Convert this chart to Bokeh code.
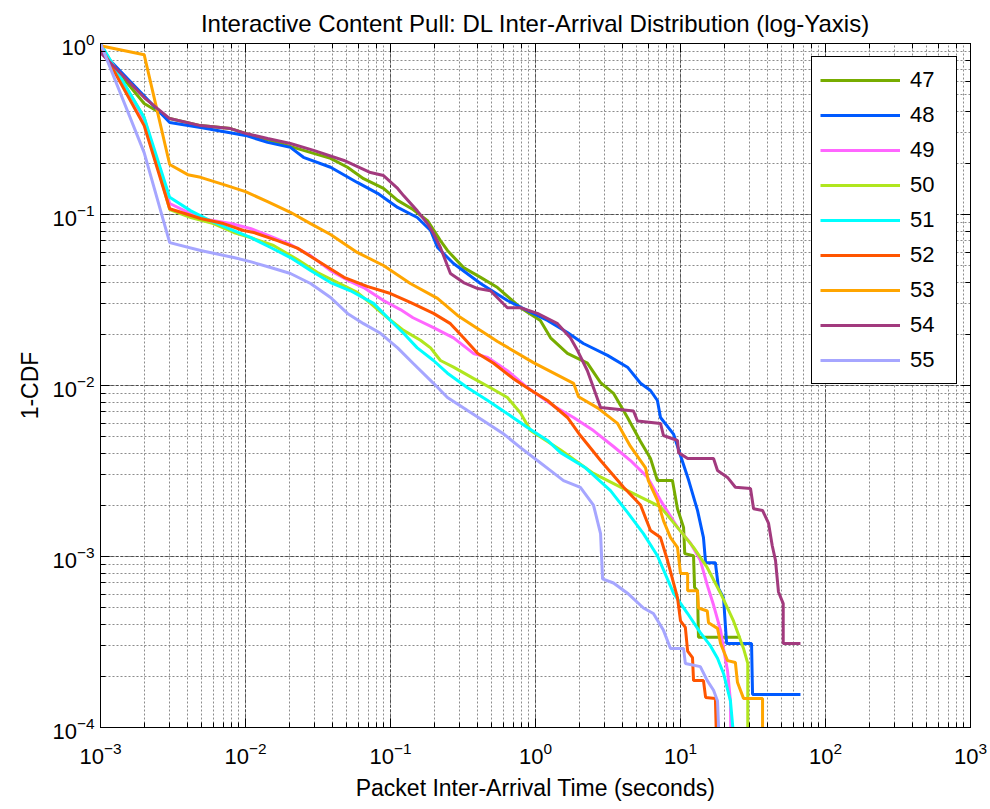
from bokeh.plotting import figure
from bokeh.models import LogAxis, Legend, LegendItem
from bokeh.embed import file_html
from bokeh.resources import INLINE

FONT = "Liberation Sans"

series_names = ["47", "48", "49", "50", "51", "52", "53", "54", "55"]
colors = ["#77AC00", "#005AFF", "#FF66FF", "#B0E61E", "#00FFFF",
          "#FF5500", "#FFA500", "#A23A7E", "#A6A6FF"]

t47 = [0.001, 0.002, 0.003, 0.0049, 0.0079, 0.01, 0.0214, 0.0386, 0.0505, 0.0652, 0.0895, 0.112, 0.143, 0.18,
       0.221, 0.247, 0.319, 0.418, 0.547, 0.788, 1.08, 1.27, 1.66, 2.28, 2.81, 3.45, 4.31, 5.3, 6.21, 6.93, 8.8,
       9.53, 10.5, 10.7, 12.3, 12.5, 13.1, 13.3, 25.9]
c47 = [0.91, 0.446, 0.364, 0.331, 0.318, 0.298, 0.247, 0.213, 0.189, 0.162, 0.142, 0.121, 0.107, 0.092, 0.0704,
       0.0616, 0.0489, 0.0429, 0.0374, 0.0285, 0.024, 0.019, 0.0154, 0.0135, 0.0104, 0.009, 0.0065, 0.0047,
       0.00374, 0.00278, 0.00278, 0.0019, 0.00148, 0.00104, 0.00101, 0.00066, 0.00063, 0.000337, 0.000337]

t48 = [0.001, 0.003, 0.0049, 0.01, 0.0142, 0.0204, 0.0251, 0.0386, 0.059, 0.0815, 0.112, 0.153, 0.189, 0.211,
       0.272, 0.418, 0.64, 0.88, 1.21, 1.66, 2.14, 3.14, 4.31, 5.3, 6.21, 6.93, 7.28, 8.95, 10.0, 11.4, 13.1,
       14.4, 14.9, 17.4, 18.3, 19.8, 20.8, 30.9, 31.4, 67.2]
c48 = [0.91, 0.345, 0.323, 0.29, 0.264, 0.247, 0.216, 0.189, 0.154, 0.133, 0.11, 0.096, 0.0806, 0.0641, 0.0517,
       0.0395, 0.0314, 0.0274, 0.024, 0.0204, 0.0176, 0.015, 0.0128, 0.0103, 0.00935, 0.00817, 0.0065, 0.0052,
       0.0039, 0.00278, 0.00186, 0.00129, 0.00092, 0.00092, 0.00065, 0.000575, 0.00031, 0.00031, 0.000156,
       0.000156]

t49 = [0.001, 0.002, 0.003, 0.0049, 0.0079, 0.0108, 0.0149, 0.0204, 0.0281, 0.0386, 0.053, 0.0652, 0.0895,
       0.117, 0.143, 0.198, 0.272, 0.373, 0.468, 0.64, 0.88, 1.33, 1.83, 2.51, 3.45, 4.52, 5.93, 7.28, 9.53,
       11.7, 13.7, 15.3, 16.9, 18.9, 19.8, 21.1, 22.1, 22.4]
c49 = [0.97, 0.35, 0.116, 0.0948, 0.0885, 0.0828, 0.0744, 0.0668, 0.0575, 0.047, 0.0405, 0.0374, 0.0314, 0.0278,
       0.0249, 0.0218, 0.019, 0.0154, 0.0146, 0.0122, 0.00973, 0.0076, 0.0065, 0.00545, 0.0044, 0.00364, 0.0029,
       0.00213, 0.00148, 0.0012, 0.00095, 0.00068, 0.00052, 0.00037, 0.00029, 0.000215, 0.000143, 0.00005]

t50 = [0.001, 0.002, 0.003, 0.0042, 0.006, 0.0083, 0.0108, 0.0156, 0.0228, 0.0314, 0.0431, 0.059, 0.0728,
       0.0953, 0.123, 0.161, 0.189, 0.221, 0.272, 0.373, 0.489, 0.64, 0.788, 0.924, 1.49, 2.51, 4.31, 7.28,
       9.53, 12.3, 15.3, 18.9, 23.2, 27.2, 29.1, 29.1]
c50 = [0.99, 0.369, 0.107, 0.096, 0.0885, 0.0785, 0.0734, 0.0659, 0.0545, 0.0458, 0.04, 0.035, 0.0302, 0.0249,
       0.021, 0.0184, 0.0166, 0.014, 0.0128, 0.011, 0.0097, 0.0085, 0.0069, 0.00545, 0.0042, 0.00306, 0.00243,
       0.00195, 0.00148, 0.00113, 0.00086, 0.00061, 0.00042, 0.00029, 0.000237, 0.00005]

t51 = [0.001, 0.002, 0.003, 0.0042, 0.0057, 0.0083, 0.0108, 0.0149, 0.0204, 0.0281, 0.0386, 0.053, 0.0764, 0.1,
       0.123, 0.153, 0.198, 0.247, 0.34, 0.468, 0.6, 0.88, 1.21, 1.49, 2.21, 3.29, 4.31, 5.55, 6.93, 8.95, 11.2,
       13.7, 16.1, 18.0, 19.8, 22.1, 24.7]
c51 = [1.0, 0.369, 0.126, 0.105, 0.092, 0.0806, 0.0734, 0.0641, 0.056, 0.047, 0.04, 0.0358, 0.0302, 0.024,
       0.0202, 0.0166, 0.014, 0.0118, 0.0097, 0.00817, 0.0071, 0.00568, 0.00477, 0.00405, 0.0033, 0.00243,
       0.00181, 0.00136, 0.00101, 0.00061, 0.000464, 0.000359, 0.0003, 0.000254, 0.000207, 0.000143, 0.00005]

t52 = [0.001, 0.002, 0.003, 0.0049, 0.00705, 0.0097, 0.0114, 0.0166, 0.0228, 0.0314, 0.0478, 0.069, 0.1, 0.137,
       0.198, 0.259, 0.319, 0.4, 0.514, 0.7, 0.924, 1.21, 1.66, 2.04, 2.81, 4.05, 5.3, 6.21, 7.28, 8.13, 9.53,
       10.0, 10.8, 11.2, 12.1, 12.3, 14.4, 14.9, 17.4, 18.0]
c52 = [0.96, 0.331, 0.108, 0.0948, 0.0885, 0.0806, 0.0785, 0.0704, 0.0636, 0.0536, 0.0429, 0.038, 0.0345,
       0.0306, 0.0264, 0.023, 0.019, 0.0154, 0.0135, 0.011, 0.0094, 0.00817, 0.0065, 0.0051, 0.00364, 0.00254,
       0.002, 0.00142, 0.00129, 0.00095, 0.000575, 0.00042, 0.000385, 0.00028, 0.000256, 0.000188, 0.000188,
       0.00015, 0.000148, 0.00005]

t53 = [0.001, 0.002, 0.003, 0.004, 0.0049, 0.007, 0.01, 0.0142, 0.0204, 0.0281, 0.0386, 0.059, 0.0895, 0.137,
       0.211, 0.29, 0.418, 0.547, 0.968, 1.83, 1.98, 2.68, 3.68, 4.52, 5.74, 6.0, 6.93, 7.63, 8.53, 9.53, 10.0,
       11.2, 11.2, 13.1, 13.3, 15.3, 15.6, 18.0, 18.9, 21.1, 23.9, 24.7, 27.2, 36.8, 36.8]
c53 = [0.97, 0.86, 0.196, 0.171, 0.165, 0.15, 0.136, 0.119, 0.103, 0.0885, 0.0764, 0.06, 0.0503, 0.0395, 0.0323,
       0.0257, 0.021, 0.0181, 0.0136, 0.0103, 0.0086, 0.0074, 0.006, 0.0044, 0.0033, 0.00278, 0.00213, 0.00162,
       0.00129, 0.00113, 0.000795, 0.000795, 0.00063, 0.00063, 0.0005, 0.00048, 0.00041, 0.00038, 0.00031,
       0.000246, 0.00024, 0.000184, 0.000148, 0.000148, 0.00005]

t54 = [0.001, 0.002, 0.003, 0.0049, 0.0079, 0.01, 0.0142, 0.0204, 0.0295, 0.0478, 0.0728, 0.0895, 0.112, 0.123,
       0.153, 0.18, 0.198, 0.221, 0.259, 0.319, 0.4, 0.489, 0.64, 0.788, 1.03, 1.42, 1.74, 1.95, 2.28, 2.81,
       4.74, 5.05, 7.28, 7.63, 9.53, 9.7, 11.2, 16.9, 18.0, 21.1, 23.9, 30.4, 31.9, 36.8, 40.5, 42.9, 45.2,
       47.4, 51.1, 51.1, 67.2]
c54 = [0.886, 0.483, 0.364, 0.331, 0.318, 0.298, 0.278, 0.26, 0.237, 0.207, 0.176, 0.169, 0.142, 0.129, 0.105,
       0.0885, 0.0774, 0.0641, 0.0452, 0.04, 0.0369, 0.0358, 0.0285, 0.0285, 0.0264, 0.023, 0.019, 0.016,
       0.0122, 0.00744, 0.0071, 0.0062, 0.006, 0.0051, 0.00477, 0.00405, 0.00374, 0.00374, 0.00318, 0.0029,
       0.00254, 0.0025, 0.0019, 0.00186, 0.00156, 0.00116, 0.00095, 0.00062, 0.00053, 0.00031, 0.00031]

t55 = [0.001, 0.002, 0.003, 0.0049, 0.0083, 0.0108, 0.0149, 0.0204, 0.0281, 0.0386, 0.0505, 0.0652, 0.0853,
       0.112, 0.143, 0.198, 0.247, 0.34, 0.468, 0.6, 0.788, 1.03, 1.27, 1.56, 2.04, 2.51, 2.81, 2.9, 3.45,
       4.31, 5.55, 6.5, 7.63, 8.53, 10.5, 10.8, 13.7, 15.3, 16.9, 18.0, 18.9]
c55 = [1.0, 0.23, 0.0685, 0.0616, 0.056, 0.053, 0.049, 0.0452, 0.0395, 0.0327, 0.0264, 0.023, 0.0202, 0.0166,
       0.0135, 0.0103, 0.0085, 0.00714, 0.006, 0.00523, 0.00433, 0.00364, 0.00318, 0.00278, 0.00254, 0.002,
       0.00136, 0.00074, 0.0007, 0.00061, 0.0005, 0.000464, 0.00037, 0.00029, 0.00029, 0.000237, 0.000227,
       0.000188, 0.000165, 0.000143, 0.00005]

times = [t47, t48, t49, t50, t51, t52, t53, t54, t55]
ccdfs = [c47, c48, c49, c50, c51, c52, c53, c54, c55]

p = figure(width=990, height=809, x_axis_type="log", y_axis_type="log",
           x_range=(1e-3, 1e3), y_range=(1e-4, 1),
           output_backend="svg", toolbar_location=None,
           min_border_left=100, min_border_right=20, min_border_top=43, min_border_bottom=82,
           title="Interactive Content Pull: DL Inter-Arrival Distribution (log-Yaxis)")

p.title.align = "center"
p.title.text_font = FONT
p.title.text_font_size = "24px"
p.title.text_font_style = "normal"
p.title.text_color = "black"
p.title.standoff = 10
p.title.vertical_align = "top"

p.outline_line_color = "black"
p.outline_line_width = 1
p.background_fill_color = "white"
p.border_fill_color = "white"

for ax in (p.xaxis[0], p.yaxis[0]):
    ax.major_label_text_font = FONT
    ax.major_label_text_font_size = "22px"
    ax.major_label_text_color = "black"
    ax.axis_label_text_font = FONT
    ax.axis_label_text_font_size = "23px"
    ax.axis_label_text_font_style = "normal"
    ax.axis_label_text_color = "black"
    ax.axis_line_color = "black"
    ax.major_tick_in = 9
    ax.major_tick_out = 0
    ax.minor_tick_in = 5
    ax.minor_tick_out = 0
    ax.major_tick_line_color = "black"
    ax.minor_tick_line_color = "black"

p.xaxis.axis_label = "Packet Inter-Arrival Time (seconds)"
p.yaxis.axis_label = "1-CDF"
p.xaxis.major_label_standoff = 14
p.yaxis.major_label_standoff = 6
p.xaxis.axis_label_standoff = 8
p.yaxis.axis_label_standoff = 6

for loc in ("above", "right"):
    extra = LogAxis(major_label_text_font_size="2px", major_label_text_alpha=0.0,
                    major_tick_in=9, major_tick_out=0,
                    minor_tick_in=5, minor_tick_out=0, major_label_standoff=0,
                    axis_line_color="black")
    p.add_layout(extra, loc)

for g in (p.xgrid[0], p.ygrid[0]):
    g.grid_line_color = "#3a3a3a"
    g.grid_line_dash = "3 2"
    g.grid_line_alpha = 0.85
    g.minor_grid_line_color = "#808080"
    g.minor_grid_line_dash = "2 2"
    g.minor_grid_line_alpha = 0.9

items = []
for name, col, tx, cy in zip(series_names, colors, times, ccdfs):
    r = p.line(tx, cy, line_color=col, line_width=3)
    items.append(LegendItem(label=name, renderers=[r]))

legend = Legend(items=items, location="top_right", margin=13, padding=8, spacing=5,
                glyph_width=80, glyph_height=30, label_standoff=10, label_width=38,
                label_text_font=FONT, label_text_font_size="22px", label_text_color="black",
                border_line_color="black", border_line_width=1, border_line_alpha=1,
                background_fill_color="white", background_fill_alpha=1)
p.add_layout(legend)

open("out.html", "w").write(file_html(p, INLINE))
